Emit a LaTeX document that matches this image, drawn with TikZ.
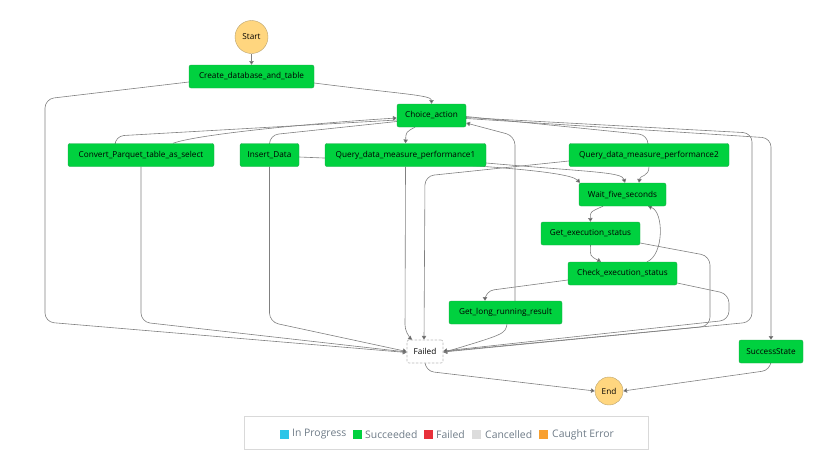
\documentclass[tikz,border=0pt]{standalone}
\usepackage{fontspec}
\setmainfont{Open Sans}
\usetikzlibrary{arrows.meta,backgrounds}

\definecolor{okgreen}{HTML}{00D13F}
\definecolor{okborder}{HTML}{1FA84A}
\definecolor{termfill}{HTML}{FFD67F}
\definecolor{termborder}{HTML}{B9A26E}
\definecolor{edgegray}{HTML}{808080}
\definecolor{inprog}{HTML}{2BC5E8}
\definecolor{failred}{HTML}{E8303A}
\definecolor{cancelgray}{HTML}{DCDCDC}
\definecolor{caught}{HTML}{F8A030}
\definecolor{legtextgray}{HTML}{6E7B87}

\tikzset{
  state/.style={draw=okborder, fill=okgreen, rounded corners=2pt, minimum height=23pt,
    inner xsep=0pt, font=\fontsize{8.2}{9}\selectfont, text=black},
  term/.style={circle, draw=termborder, fill=termfill, inner sep=0pt,
    font=\fontsize{8.2}{9}\selectfont},
  failstate/.style={draw=gray!55, line width=0.6pt, dash pattern=on 2.5pt off 1.5pt,
    fill=white, rounded corners=2pt, minimum height=23pt, minimum width=36pt,
    inner xsep=0pt, font=\fontsize{8.2}{9}\selectfont},
  edge/.style={draw=edgegray, line width=0.6pt, rounded corners=9pt,
    -{Triangle[width=4.5pt,length=3.8pt,fill=edgegray!70!black]}},
  legsq/.style={draw=none, minimum size=9pt, inner sep=0pt},
  legtext/.style={anchor=west, inner sep=0pt, text=legtextgray, font=\fontsize{10.4}{12}\selectfont},
}

\begin{document}
\begin{tikzpicture}[x=1pt,y=-1pt]
  \useasboundingbox (0,0) rectangle (836,459);
  % States
  \node[term, minimum size=33pt] (start) at (251.5,37) {Start};
  \node[state, minimum width=125pt] (create) at (251.5,76.5) {Create\_database\_and\_table};
  \node[state, minimum width=69pt] (choice) at (431.5,115.5) {Choice\_action};
  \node[state, minimum width=146pt] (convert) at (141,155) {Convert\_Parquet\_table\_as\_select};
  \node[state, minimum width=59pt] (insert) at (269.5,155) {Insert\_Data};
  \node[state, minimum width=161pt] (query1) at (405.5,155) {Query\_data\_measure\_performance1};
  \node[state, minimum width=160pt] (query2) at (649,155) {Query\_data\_measure\_performance2};
  \node[state, minimum width=87pt] (wait) at (622.5,194.5) {Wait\_five\_seconds};
  \node[state, minimum width=99pt] (getexec) at (590.5,233.5) {Get\_execution\_status};
  \node[state, minimum width=109pt] (check) at (622.5,273.5) {Check\_execution\_status};
  \node[state, minimum width=113pt] (getlong) at (505.5,312.5) {Get\_long\_running\_result};
  \node[failstate] (failed) at (425,351.5) {Failed};
  \node[state, minimum width=64pt] (success) at (771,351.5) {SuccessState};
  \node[term, minimum size=28pt] (end) at (609,391) {End};

  \begin{scope}[on background layer]
    \draw[edge] (start) -- (create);
    \draw[edge] ([yshift=-6.5pt]create.east) .. controls (400,94) and (431.5,95) .. (choice.north);
    \draw[edge] ([yshift=-5.5pt]create.west) -- (45,99) -- (45,322) -- ([yshift=-1pt]failed.west);
    % out of Choice_action
    \draw[edge] ([yshift=-4.5pt]choice.west) -- (115,136) -- ([xshift=-26pt]convert.north);
    \draw[edge] ([yshift=-6pt]choice.west) -- (269.5,135) -- (insert.north);
    \draw[edge] ([xshift=-16.5pt]choice.south) .. controls (406,132) .. (query1.north);
    \draw[edge] ([yshift=-1pt]choice.east) -- (648,135) -- ([xshift=-1pt]query2.north);
    \draw[edge] ([yshift=-2pt]choice.east) -- (752,133) -- (752,322) -- ([yshift=-0.5pt]failed.east);
    \draw[edge] ([yshift=-3pt]choice.east) -- (771,138) -- (success.north);
    % back to Choice_action
    \draw[edge] ([xshift=32pt]convert.north) .. controls (195,135) and (300,124) .. ([yshift=-2.5pt]choice.west);
    \draw[edge] ([xshift=9.5pt]getlong.north) -- (515,136) -- ([yshift=-7.5pt]choice.east);
    % into Wait_five_seconds
    \draw[edge] ([yshift=-2pt]insert.east) .. controls (450,163) and (568,170) .. ([xshift=-42.5pt]wait.north);
    \draw[edge] ([yshift=-8pt]query1.east) .. controls (590,172) and (622,172) .. ([xshift=2.5pt]wait.north);
    \draw[edge] (query2.south) .. controls (649,177) and (640,175) .. ([xshift=16.5pt]wait.north);
    % polling loop
    \draw[edge] ([xshift=-19.5pt]wait.south) .. controls (590,212) .. (getexec.north);
    \draw[edge] (getexec.south) .. controls (590,256) .. ([xshift=-21.5pt]check.north);
    \draw[edge] ([xshift=24.5pt]check.north) .. controls (664,255) and (664,212) .. ([xshift=25.5pt]wait.south);
    \draw[edge] ([yshift=-6.5pt]check.west) -- (485,291) -- ([xshift=-20.5pt]getlong.north);
    % into Failed
    \draw[edge] (convert.south) -- (141,322) -- ([yshift=-0.5pt]failed.west);
    \draw[edge] (insert.south) -- (269.5,322) -- (failed.west);
    \draw[edge] (query1.south) -- (405,334) -- ([xshift=-13pt]failed.north);
    \draw[edge] ([yshift=-6pt]query2.west) -- (425,176) -- ([xshift=-1pt]failed.north);
    \draw[edge] ([xshift=1.5pt]getlong.south) .. controls (505,334) .. ([yshift=-1pt]failed.east);
    \draw[edge] ([yshift=-9.5pt]getexec.east) -- (710,256) -- (710,326) -- (failed.east);
    \draw[edge] ([yshift=-9.5pt]check.east) -- (729,294) -- (729,320) -- ([yshift=0.5pt]failed.east);
    % to End
    \draw[edge] (failed.south) -- (425,371) -- (end.west);
    \draw[edge] (success.south) -- (771,370) -- (end.east);
  \end{scope}

  % Legend
  \draw[gray!30, line width=0.8pt] (244,416) rectangle (648,449);
  \node[legsq, fill=inprog] (sqprog) at (284.5,434.5) {};
  \node[legtext] (txtprog) at (292,434.5) {In Progress};
  \node[legsq, fill=okgreen] (sqok) at (357.5,434.5) {};
  \node[legtext] (txtok) at (365,434.5) {Succeeded};
  \node[legsq, fill=failred] (sqfail) at (428.5,434.5) {};
  \node[legtext] (txtfail) at (436,434.5) {Failed};
  \node[legsq, fill=cancelgray] (sqcancel) at (476.5,434.5) {};
  \node[legtext] (txtcancel) at (485,434.5) {Cancelled};
  \node[legsq, fill=caught] (sqcaught) at (543.5,434.5) {};
  \node[legtext] (txtcaught) at (552,434.5) {Caught Error};
\end{tikzpicture}
\end{document}
